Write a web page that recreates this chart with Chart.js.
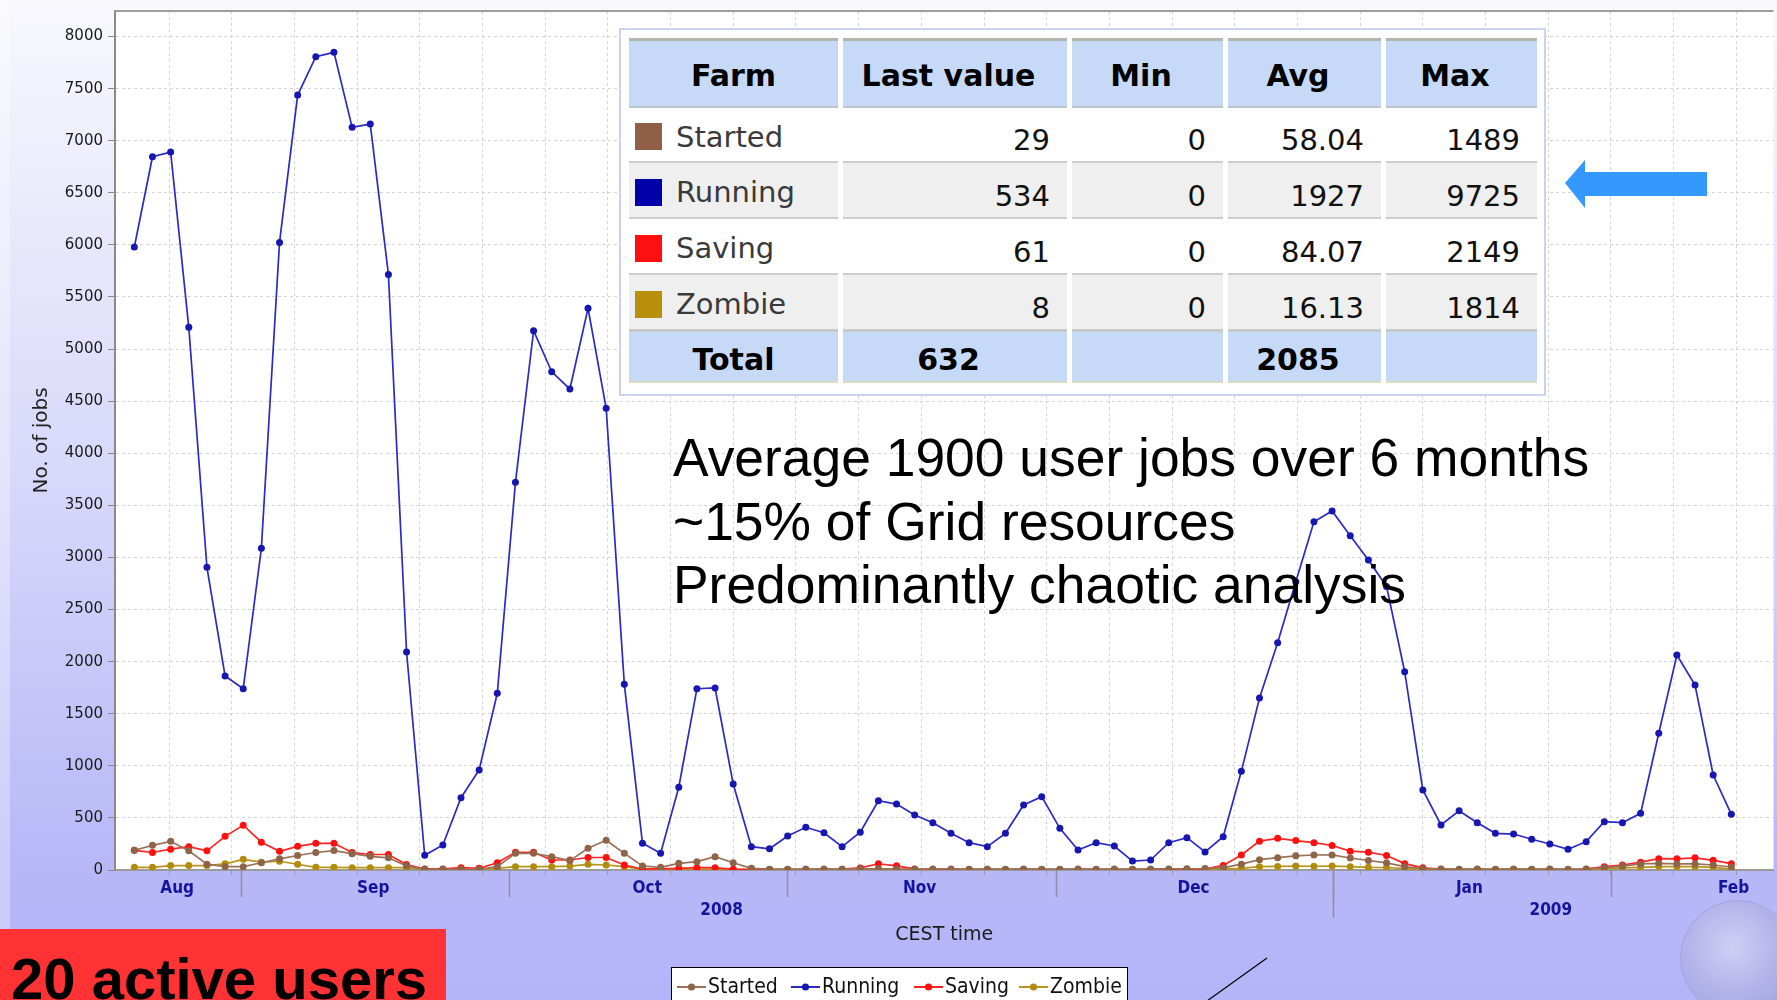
<!DOCTYPE html>
<html>
<head>
<meta charset="utf-8">
<title>Running jobs</title>
<script src="https://cdn.jsdelivr.net/npm/chart.js@4.4.1/dist/chart.umd.min.js"></script>
<style>
  html, body { margin: 0; padding: 0; }
  body { width: 1777px; height: 1000px; position: relative; overflow: hidden; background: #b4b4f9; font-family: "DejaVu Sans", sans-serif; }
  #jobs-chart { position: absolute; left: 0; top: 0; }
  #stats-box { position: absolute; left: 619px; top: 28px; width: 927px; height: 368px; box-sizing: border-box; background: #fff; border: 2px solid #cad3ec; }
  #stats { position: absolute; left: 629px; top: 38px; display: grid; grid-template-columns: 209px 224px 151px 153px 151px; grid-template-rows: 70px 55px 56px 56px 57px 51px; column-gap: 5px; }
  #stats div { box-sizing: border-box; display: flex; align-items: center; white-space: nowrap; }
  #stats .hd { background: #c6daf8; border-top: 3px solid #aeb8ab; border-bottom: 2px solid #bcc4cc; justify-content: center; font-weight: bold; font-size: 30px; color: #000; padding-top: 4px; }
  #stats .hd.c { padding-right: 13px; }
  #stats .lbl { font-size: 29px; color: #3a3a3a; padding-top: 4px; border-bottom: 2px solid #cdcdcd; }
  #stats .num { font-size: 29px; color: #111; justify-content: flex-end; padding-right: 17px; padding-top: 11px; border-bottom: 2px solid #cdcdcd; }
  #stats .alt { background: #efefef; }
  #stats .last { border-bottom: 3px solid #c6c9c9; }
  #stats .sw { width: 27px; height: 27px; margin: 0 14px 0 6px; flex: none; }
  #stats .tot { background: #c6daf8; border-bottom: 2px solid #d9dcc4; justify-content: center; font-weight: bold; font-size: 30px; color: #000; padding-top: 6px; }
  #stats .tot.c { padding-right: 13px; }
  #notes { position: absolute; left: 673px; top: 426px; font-family: "Liberation Sans", Arial, sans-serif; font-size: 53.4px; line-height: 63.5px; color: #000; white-space: nowrap; }
  #users { position: absolute; left: 0; top: 929px; width: 446px; height: 71px; background: #ff3333; overflow: hidden; }
  #users span { position: absolute; left: 11px; top: 21px; font-family: "Liberation Sans", Arial, sans-serif; font-weight: bold; font-size: 58px; line-height: 58px; color: #000; white-space: nowrap; }
  #legend { position: absolute; left: 671px; top: 967px; width: 457px; height: 40px; box-sizing: border-box; background: #fff; border: 1px solid #000; }
  #legend .item { position: absolute; top: 8px; height: 21px; line-height: 21px; display: flex; align-items: center; font-family: "DejaVu Sans Condensed", "DejaVu Sans", sans-serif; font-size: 21px; color: #111; white-space: nowrap; }
  #legend svg { margin-right: 2px; }
  #globe { position: absolute; left: 1680px; top: 900px; width: 114px; height: 114px; border-radius: 50%; background: radial-gradient(circle at 45% 40%, #cfcff4 0%, #b0b0ea 55%, #9a9adb 100%); border: 1px solid #a4a4e0; }
  #marks { position: absolute; left: 0; top: 0; }
</style>
</head>
<body>
<canvas id="jobs-chart" width="1777" height="1000"></canvas>
<div id="stats-box"></div>
<div id="stats"></div>
<div id="notes">Average 1900 user jobs over 6 months<br>~15% of Grid resources<br>Predominantly chaotic analysis</div>
<svg id="marks" width="1777" height="1000">
  <polygon points="1565,183 1585,160 1585,172 1707,172 1707,196 1585,196 1585,208" fill="#3399ff"/>
  <line x1="1267" y1="958" x2="1207" y2="1001" stroke="#000" stroke-width="1.2"/>
</svg>
<div id="legend"></div>
<div id="globe"></div>
<div id="users"><span>20 active users</span></div>
<script>
// samples are about two days apart, x is in days counted from 1 Sep 2008
var firstSampleDay = -11.88;
var sampleStepDays = 2.0265;

var farmNames = ["Started", "Running", "Saving", "Zombie"];
var lineColors = ["#9a725a", "#2a2ac4", "#ff2424", "#b8941c"];
var pointColors = ["#8e6448", "#1616b0", "#ff1010", "#b08c0c"];
var swatchColors = ["#8f6047", "#0000a8", "#ff1010", "#b8900c"];

var started = [190, 237, 275, 184, 56, 32, 32, 70, 107, 139,
  168, 186, 157, 131, 117, 40, 6, 6, 6, 6,
  32, 160, 160, 128, 90, 208, 285, 160, 38, 26,
  64, 80, 128, 70, 16, 8, 8, 8, 10, 8,
  10, 12, 10, 8, 10, 10, 8, 10, 8, 10,
  8, 8, 10, 8, 10, 8, 10, 10, 12, 14,
  20, 56, 99, 118, 136, 144, 145, 115, 91, 69,
  32, 12, 10, 8, 10, 8, 10, 8, 10, 8,
  10, 20, 38, 58, 64, 58, 58, 48, 29];

var running = [5980, 6846, 6891, 5209, 2905, 1862, 1740, 3088, 6024, 7438,
  7806, 7848, 7128, 7160, 5717, 2092, 141, 240, 694, 960,
  1696, 3721, 5176, 4782, 4617, 5391, 4431, 1782, 256, 160,
  794, 1740, 1747, 825, 224, 204, 326, 410, 358, 224,
  362, 665, 633, 528, 454, 352, 262, 224, 352, 624,
  704, 400, 192, 262, 230, 86, 96, 262, 310, 173,
  320, 947, 1651, 2182, 2767, 3343, 3446, 3209, 2975, 2722,
  1903, 768, 432, 569, 454, 352, 345, 295, 250, 198,
  272, 464, 454, 544, 1312, 2064, 1776, 912, 534];

var saving = [189, 168, 200, 224, 184, 323, 430, 267, 179, 227,
  256, 256, 168, 149, 149, 53, 10, 10, 22, 16,
  70, 170, 170, 96, 96, 120, 120, 48, 10, 10,
  16, 22, 22, 6, 6, 5, 5, 6, 5, 8,
  20, 60, 40, 10, 5, 5, 4, 5, 5, 4,
  5, 4, 5, 5, 4, 5, 4, 5, 6, 8,
  44, 144, 277, 304, 282, 262, 235, 181, 171, 139,
  61, 21, 8, 5, 5, 4, 5, 5, 4, 5,
  8, 32, 48, 75, 109, 107, 117, 93, 61];

var zombie = [26, 26, 42, 42, 42, 59, 102, 75, 84, 55,
  26, 26, 22, 22, 22, 22, 6, 4, 4, 6,
  16, 32, 32, 32, 38, 54, 48, 32, 6, 5,
  6, 8, 8, 5, 3, 3, 3, 2, 3, 2,
  3, 4, 3, 2, 3, 2, 3, 2, 3, 2,
  3, 2, 3, 2, 3, 2, 3, 2, 3, 4,
  8, 16, 32, 34, 38, 36, 38, 32, 26, 24,
  14, 6, 3, 2, 3, 2, 3, 2, 3, 2,
  4, 10, 20, 26, 32, 32, 32, 26, 8];

var yTicks = [0, 500, 1000, 1500, 2000, 2500, 3000, 3500, 4000, 4500, 5000, 5500, 6000, 6500, 7000, 7500, 8000];

// period axis: month / year bands, days from 1 Sep 2008
var monthNames = ["Aug", "Sep", "Oct", "Nov", "Dec", "Jan", "Feb"];
var monthLabelDays = [-7.1, 14.8, 45.4, 75.8, 106.4, 137.2, 166.7];
var monthStartDays = [0, 30, 61, 91, 122, 153];
var yearNames = ["2008", "2009"];
var yearLabelDays = [53.7, 146.3];
var yearStartDays = [122];

// summary table
var lastValues = ["29", "534", "61", "8"];
var minValues = ["0", "0", "0", "0"];
var avgValues = ["58.04", "1927", "84.07", "16.13"];
var maxValues = ["1489", "9725", "2149", "1814"];
var totalLast = "632";
var totalAvg = "2085";

function sampleDay(i) { return firstSampleDay + i * sampleStepDays; }

var weekTicks = [];
for (var d = -8; d <= 171; d += 7) weekTicks.push(d);

var html = '<div class="hd">Farm</div><div class="hd c">Last value</div><div class="hd c">Min</div><div class="hd c">Avg</div><div class="hd c">Max</div>';
farmNames.forEach(function (name, i) {
  var cls = (i % 2 ? " alt" : "") + (i === farmNames.length - 1 ? " last" : "");
  html += '<div class="lbl' + cls + '"><span class="sw" style="background:' + swatchColors[i] + '"></span>' + name + '</div>';
  html += '<div class="num' + cls + '">' + lastValues[i] + '</div>';
  html += '<div class="num' + cls + '">' + minValues[i] + '</div>';
  html += '<div class="num' + cls + '">' + avgValues[i] + '</div>';
  html += '<div class="num' + cls + '">' + maxValues[i] + '</div>';
});
html += '<div class="tot">Total</div><div class="tot c">' + totalLast + '</div><div class="tot"></div><div class="tot c">' + totalAvg + '</div><div class="tot"></div>';
document.getElementById("stats").innerHTML = html;

var legendLefts = [5, 119, 242, 347];
var leg = "";
farmNames.forEach(function (name, i) {
  leg += '<div class="item" style="left:' + legendLefts[i] + 'px"><svg width="29" height="12">' +
    '<line x1="0" y1="6" x2="29" y2="6" stroke="' + lineColors[i] + '" stroke-width="2"/>' +
    '<circle cx="14.5" cy="6" r="3.6" fill="' + pointColors[i] + '"/></svg>' + name + '</div>';
});
document.getElementById("legend").innerHTML = leg;

var backdrop = {
  id: "backdrop",
  beforeDraw: function (chart) {
    var ctx = chart.ctx, a = chart.chartArea;
    var g = ctx.createLinearGradient(0, 0, 0, chart.height);
    g.addColorStop(0, "#f8f8fd");
    g.addColorStop(0.5, "#d6d6fa");
    g.addColorStop(0.86, "#b8b8f8");
    g.addColorStop(1, "#b4b4f9");
    ctx.save();
    ctx.fillStyle = g;
    ctx.fillRect(0, 0, chart.width, chart.height);
    ctx.fillStyle = "rgba(255,255,255,0.3)";
    ctx.fillRect(0, 0, 10, 930);
    ctx.fillStyle = "#ffffff";
    ctx.fillRect(a.left, a.top, a.right - a.left, a.bottom - a.top);
    ctx.restore();
  }
};

var periodAxis = {
  id: "periodAxis",
  afterDraw: function (chart) {
    var ctx = chart.ctx, a = chart.chartArea, x = chart.scales.x;
    ctx.save();
    ctx.strokeStyle = "#8e8ea4";
    ctx.lineWidth = 1.5;
    monthStartDays.forEach(function (d) {
      var px = Math.round(x.getPixelForValue(d)) + 0.5;
      ctx.beginPath(); ctx.moveTo(px, a.bottom); ctx.lineTo(px, a.bottom + 27); ctx.stroke();
    });
    yearStartDays.forEach(function (d) {
      var px = Math.round(x.getPixelForValue(d)) + 0.5;
      ctx.beginPath(); ctx.moveTo(px, a.bottom); ctx.lineTo(px, a.bottom + 48); ctx.stroke();
    });
    ctx.fillStyle = "#14149c";
    ctx.font = 'bold 17px "DejaVu Sans Condensed", "DejaVu Sans", sans-serif';
    ctx.textAlign = "center";
    ctx.textBaseline = "alphabetic";
    monthNames.forEach(function (m, i) {
      ctx.fillText(m, x.getPixelForValue(monthLabelDays[i]), a.bottom + 23);
    });
    yearNames.forEach(function (y, i) {
      ctx.fillText(y, x.getPixelForValue(yearLabelDays[i]), a.bottom + 45);
    });
    ctx.strokeStyle = "#9d9d9d";
    ctx.lineWidth = 2;
    ctx.beginPath(); ctx.moveTo(a.left, a.top); ctx.lineTo(a.right, a.top); ctx.stroke();
    ctx.restore();
  }
};

function series(i, values) {
  return {
    label: farmNames[i],
    data: values.map(function (v, k) { return { x: sampleDay(k), y: v }; }),
    borderColor: lineColors[i],
    borderWidth: 1.7,
    pointRadius: 3.5,
    pointHoverRadius: 3.5,
    pointBorderWidth: 0,
    pointBackgroundColor: pointColors[i],
    tension: 0,
    fill: false
  };
}

Chart.defaults.font.family = '"DejaVu Sans", sans-serif';

new Chart(document.getElementById("jobs-chart"), {
  type: "line",
  data: {
    // first dataset is drawn on top
    datasets: [series(0, started), series(1, running), series(2, saving), series(3, zombie)]
  },
  options: {
    responsive: false,
    animation: false,
    devicePixelRatio: 1,
    layout: { padding: { top: 11, right: 0, bottom: 0, left: 0 } },
    plugins: { legend: { display: false }, tooltip: { enabled: false } },
    scales: {
      x: {
        type: "linear",
        min: -14.04,
        max: 171.16,
        afterBuildTicks: function (s) { s.ticks = weekTicks.map(function (v) { return { value: v }; }); },
        afterFit: function (s) { s.height = 130; s.paddingLeft = 0; s.paddingRight = 0; },
        ticks: { display: false },
        grid: { color: "#d4d4d4", lineWidth: 1, drawTicks: true, tickLength: 5, tickColor: "#9a9aaa", tickBorderDash: [] },
        border: { display: true, color: "#9b9b9b", width: 2, dash: [3, 3] },
        title: { display: true, text: "CEST time", color: "#1a1a1a", font: { size: 19 }, padding: { top: 0, bottom: 54 } }
      },
      y: {
        min: 0,
        max: 8245,
        afterBuildTicks: function (s) { s.ticks = yTicks.map(function (v) { return { value: v }; }); },
        afterFit: function (s) { s.width = 115; s.paddingTop = 0; s.paddingBottom = 0; },
        ticks: { callback: function (v) { return String(v); }, color: "#1a1a1a", font: { size: 15 }, padding: 5 },
        grid: { color: "#d4d4d4", lineWidth: 1, drawTicks: true, tickLength: 7, tickColor: "#888", tickBorderDash: [] },
        border: { display: true, color: "#8a8a8a", width: 2, dash: [3, 3] },
        title: { display: true, text: "No. of jobs", color: "#222", font: { size: 20 }, padding: { top: 30, bottom: 0 } }
      }
    }
  },
  plugins: [backdrop, periodAxis]
});
</script>
</body>
</html>
